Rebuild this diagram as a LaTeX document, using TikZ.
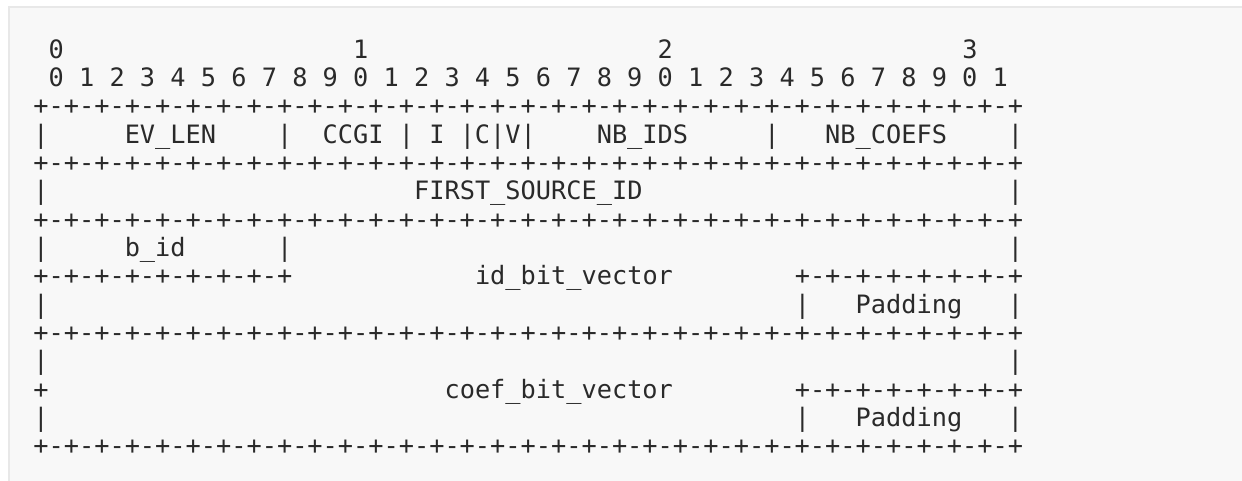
\documentclass[tikz,border=0pt]{standalone}
\usepackage{fontspec}
\newfontfamily\asciimono{DejaVu Sans Mono}
\definecolor{ink}{RGB}{42,42,42}
\definecolor{panel}{RGB}{248,248,248}
\definecolor{paneledge}{RGB}{232,232,232}
\ExplSyntaxOn
\NewDocumentCommand\Dash{m}{\prg_replicate:nn{#1}{-+}}
\ExplSyntaxOff
\newcommand\Blank[1]{\kern\dimexpr 0.60205em*#1\relax}
\tikzset{
  asciirow/.style={anchor=base west, inner sep=0pt, outer sep=0pt,
    text=ink, font=\asciimono\fontsize{18.97pt}{20pt}\selectfont},
}
\begin{document}
\begin{tikzpicture}[x=0.75pt,y=-0.75pt]
\useasboundingbox (0,0) rectangle (1242,481);
\fill[white] (0,0) rectangle (1242,481);
\draw[paneledge, fill=panel, line width=1.5pt] (8.5,7.5) rectangle (1250,490);
\def\rowy#1{58.3+(#1-1)*28.33}
\node[asciirow] (l1)  at (33.4,{\rowy{1}})  {\Blank{1}0\Blank{19}1\Blank{19}2\Blank{19}3};
\node[asciirow] (l2)  at (33.4,{\rowy{2}})  {\Blank{1}0 1 2 3 4 5 6 7 8 9 0 1 2 3 4 5 6 7 8 9 0 1 2 3 4 5 6 7 8 9 0 1};
\node[asciirow] (l3)  at (33.4,{\rowy{3}})  {+\Dash{32}};
\node[asciirow] (l4)  at (33.4,{\rowy{4}})  {|\Blank{5}EV\_LEN\Blank{4}|\Blank{2}CCGI\Blank{1}|\Blank{1}I\Blank{1}|C|V|\Blank{4}NB\_IDS\Blank{5}|\Blank{3}NB\_COEFS\Blank{4}|};
\node[asciirow] (l5)  at (33.4,{\rowy{5}})  {+\Dash{32}};
\node[asciirow] (l6)  at (33.4,{\rowy{6}})  {|\Blank{24}FIRST\_SOURCE\_ID\Blank{24}|};
\node[asciirow] (l7)  at (33.4,{\rowy{7}})  {+\Dash{32}};
\node[asciirow] (l8)  at (33.4,{\rowy{8}})  {|\Blank{5}b\_id\Blank{6}|\Blank{47}|};
\node[asciirow] (l9)  at (33.4,{\rowy{9}})  {+\Dash{8}\Blank{12}id\_bit\_vector\Blank{8}+\Dash{7}};
\node[asciirow] (l10) at (33.4,{\rowy{10}}) {|\Blank{49}|\Blank{3}Padding\Blank{3}|};
\node[asciirow] (l11) at (33.4,{\rowy{11}}) {+\Dash{32}};
\node[asciirow] (l12) at (33.4,{\rowy{12}}) {|\Blank{63}|};
\node[asciirow] (l13) at (33.4,{\rowy{13}}) {+\Blank{26}coef\_bit\_vector\Blank{8}+\Dash{7}};
\node[asciirow] (l14) at (33.4,{\rowy{14}}) {|\Blank{49}|\Blank{3}Padding\Blank{3}|};
\node[asciirow] (l15) at (33.4,{\rowy{15}}) {+\Dash{32}};
\end{tikzpicture}
\end{document}
